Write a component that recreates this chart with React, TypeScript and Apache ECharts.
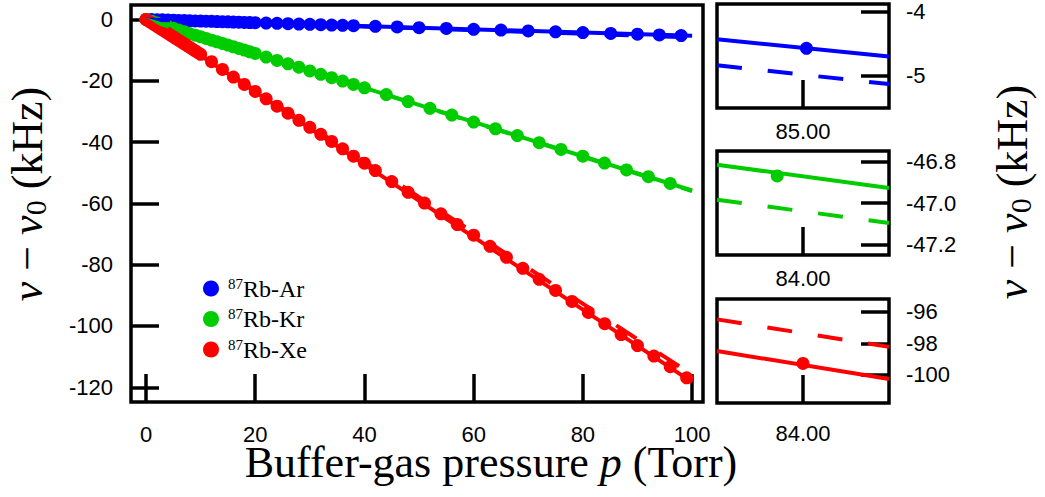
import React, { useEffect, useRef } from 'react';
import * as echarts from 'echarts';

// ---------- data ----------
const arP = [0, 1, 2, 3, 4, 5, 6, 7, 8, 9, 10, 11, 12, 13, 14, 15, 16, 17, 18, 19, 20,
  22, 24, 26, 28, 30, 32, 34, 36, 38, 42, 46, 50, 55, 60, 65, 70, 75, 80, 85.1, 90, 94, 98];
const arV = [0, -0.05, -0.1, -0.15, -0.2, -0.27, -0.32, -0.37, -0.43, -0.48, -0.54, -0.59, -0.64, -0.7, -0.75, -0.8, -0.86, -0.91, -0.97, -1.02, -1.07,
  -1.18, -1.29, -1.4, -1.5, -1.61, -1.72, -1.83, -1.93, -2.04, -2.26, -2.47, -2.69, -2.95, -3.22, -3.49, -3.76, -4.03, -4.3, -4.57, -4.83, -5.05, -5.26];

const krP = [0, 1, 2, 3, 4, 5, 6, 7, 8, 9, 10, 11, 12, 13, 14, 15, 16, 17, 18, 19, 20,
  22, 24, 26, 28, 30, 32, 34, 36, 38, 40, 44, 48, 52, 56, 60, 64, 68, 72, 76, 80, 83.97, 88, 92, 96];
const krV = [0, -0.6, -1.2, -1.78, -2.35, -2.92, -3.48, -4.04, -4.6, -5.14, -5.68, -6.22, -6.76, -7.3, -7.84, -8.38, -8.92, -9.46, -10.0, -10.55, -11.1,
  -12.3, -13.4, -14.5, -15.6, -16.8, -17.9, -19.0, -20.1, -21.2, -22.3, -24.5, -26.8, -29.0, -31.2, -33.5, -35.7, -37.9, -40.2, -42.4, -44.6, -46.87, -49.1, -51.3, -53.5];

const xeP = [0, 0.5, 1, 1.5, 2, 2.5, 3, 3.5, 4, 4.5, 5, 5.5, 6, 6.5, 7, 7.5, 8, 8.5, 9, 9.5, 10,
  12, 14, 16, 18, 20, 22, 24, 26, 28, 30, 32, 34, 36, 38, 40, 42,
  45, 48, 51, 54, 57, 60, 63, 66, 69, 72, 75, 78, 81, 84, 87, 90, 93, 96, 99];
const xeV = [0, -0.57, -1.14, -1.71, -2.28, -2.85, -3.42, -3.99, -4.56, -5.13, -5.7, -6.27, -6.84, -7.41, -7.98, -8.55, -9.12, -9.69, -10.26, -10.83, -11.4,
  -13.8, -16.3, -18.8, -21.2, -23.5, -25.9, -28.3, -30.6, -32.9, -35.2, -37.5, -39.8, -42.2, -44.6, -46.9, -49.3,
  -52.9, -56.4, -59.9, -63.4, -66.9, -70.4, -74.0, -77.6, -81.2, -84.8, -88.4, -92.0, -95.6, -99.27, -102.8, -106.4, -109.8, -113.3, -116.9];

// fit curves (endpoints): solid and dashed
const fitP = [0, 100];
const arFitSolid = [0, -5.37];
const arFitDashed = [0, -5.86];
const krFitSolid = [0, -55.8];
const krFitDashed = [0, -56.0];
const xeFitSolid = [0, -118.3];
const xeFitDashed = [0, -115.9];

const seriesNames = ['87Rb-Ar', '87Rb-Kr', '87Rb-Xe'];
const colors = ['#0000ff', '#00cc00', '#ff0000'];

// main axes ticks
const mainXTicks = [0, 20, 40, 60, 80, 100];
const mainYTicks = [0, -20, -40, -60, -80, -100, -120];
const mainXRange = [-2.75, 102];
const mainYRange = [-124.8, 4.7];

// insets (Ar, Kr, Xe)
const insetXRanges = [[82.5, 87.5], [83.9, 84.1], [83.25, 84.75]];
const insetXTicks = [[85], [84], [84]];
const insetYRanges = [[-5.5, -3.88], [-47.25, -46.75], [-101.77, -95.2]];
const insetYTicks = [[-4, -5], [-46.8, -47.0, -47.2], [-96, -98, -100]];
const insetYDecimals = [0, 1, 0];

const zip = (a: number[], b: number[]) => a.map((v, i) => [v, b[i]]);

// piece of a straight fit line (given by its two end values) over an x range
const fitPiece = (ys: number[], r: number[]) => {
  const at = (x: number) => ys[0] + ((ys[1] - ys[0]) * (x - fitP[0])) / (fitP[1] - fitP[0]);
  return [[r[0], at(r[0])], [r[1], at(r[1])]];
};

const SANS = 'Liberation Sans, Arial, sans-serif';
const SERIF = 'Liberation Serif, Times New Roman, serif';

function buildOption() {
  const gridBoxes = [
    { left: 131, top: 5, width: 572, height: 397 },
    { left: 717, top: 4, width: 172, height: 104 },
    { left: 717, top: 151, width: 172, height: 104 },
    { left: 717, top: 299, width: 172, height: 104 },
  ];
  const grid = gridBoxes.map((g) => ({
    ...g,
    show: true,
    borderColor: '#000',
    borderWidth: 3.5,
    backgroundColor: 'transparent',
    containLabel: false,
    outerBoundsMode: 'none',
  }));

  const tickStyle = { color: '#000', width: 3.5 };
  const labelBase = { fontFamily: SANS, fontSize: 22, lineHeight: 20, color: '#000' };
  const noLine = { show: false, onZero: false };

  const xAxis: any[] = [
    {
      gridIndex: 0, type: 'value', position: 'bottom', min: mainXRange[0], max: mainXRange[1],
      axisLine: noLine, splitLine: { show: false },
      axisTick: { inside: true, length: 28, lineStyle: tickStyle, customValues: mainXTicks },
      axisLabel: { ...labelBase, margin: 22, customValues: mainXTicks },
    },
  ];
  const yAxis: any[] = [
    {
      gridIndex: 0, type: 'value', position: 'left', min: mainYRange[0], max: mainYRange[1],
      axisLine: noLine, splitLine: { show: false },
      axisTick: { inside: true, length: 28, lineStyle: tickStyle, customValues: mainYTicks },
      axisLabel: { ...labelBase, margin: 18, customValues: mainYTicks },
    },
  ];
  for (let i = 0; i < 3; i++) {
    xAxis.push({
      gridIndex: i + 1, type: 'value', position: 'bottom', min: insetXRanges[i][0], max: insetXRanges[i][1],
      axisLine: noLine, splitLine: { show: false },
      axisTick: { inside: true, length: 28, lineStyle: tickStyle, customValues: insetXTicks[i] },
      axisLabel: { ...labelBase, margin: i === 2 ? 20 : 13, customValues: insetXTicks[i], formatter: (v: number) => v.toFixed(2) },
    });
    const d = insetYDecimals[i];
    yAxis.push({
      gridIndex: i + 1, type: 'value', position: 'right', min: insetYRanges[i][0], max: insetYRanges[i][1],
      axisLine: noLine, splitLine: { show: false },
      axisTick: { inside: true, length: 28, lineStyle: tickStyle, customValues: insetYTicks[i] },
      axisLabel: { ...labelBase, margin: 17, customValues: insetYTicks[i], formatter: (v: number) => v.toFixed(d) },
    });
  }

  const scatterData = [zip(arP, arV), zip(krP, krV), zip(xeP, xeV)];
  const solidVals = [arFitSolid, krFitSolid, xeFitSolid];
  const dashedVals = [arFitDashed, krFitDashed, xeFitDashed];
  const solidFits = solidVals.map((v) => zip(fitP, v));
  const dashedFits = dashedVals.map((v) => zip(fitP, v));

  const series: any[] = [];
  // main chart
  for (let k = 0; k < 3; k++) {
    series.push({
      type: 'line', name: 'solid' + k, xAxisIndex: 0, yAxisIndex: 0, data: solidFits[k],
      showSymbol: false, symbol: 'none', clip: true, z: 2,
      lineStyle: { color: colors[k], width: 4 }, itemStyle: { color: colors[k] },
    });
  }
  for (let k = 0; k < 3; k++) {
    series.push({
      type: 'scatter', name: seriesNames[k], xAxisIndex: 0, yAxisIndex: 0, data: scatterData[k],
      symbol: 'circle', symbolSize: 13, clip: true, z: 3,
      itemStyle: { color: colors[k], opacity: 1 },
    });
  }
  for (let k = 0; k < 3; k++) {
    series.push({
      type: 'line', name: 'dashed' + k, xAxisIndex: 0, yAxisIndex: 0, data: dashedFits[k],
      showSymbol: false, symbol: 'none', clip: true, z: 4,
      lineStyle: { color: colors[k], width: 4, type: [24, 27] }, itemStyle: { color: colors[k] },
    });
  }
  // insets
  for (let k = 0; k < 3; k++) {
    const ax = k + 1;
    series.push({
      type: 'line', name: 'isolid' + k, xAxisIndex: ax, yAxisIndex: ax, data: fitPiece(solidVals[k], insetXRanges[k]),
      showSymbol: false, symbol: 'none', clip: true, z: 2,
      lineStyle: { color: colors[k], width: 4 }, itemStyle: { color: colors[k] },
    });
    series.push({
      type: 'line', name: 'idashed' + k, xAxisIndex: ax, yAxisIndex: ax, data: fitPiece(dashedVals[k], insetXRanges[k]),
      showSymbol: false, symbol: 'none', clip: true, z: 2,
      lineStyle: { color: colors[k], width: 4, type: [25, 26] }, itemStyle: { color: colors[k] },
    });
    series.push({
      type: 'scatter', name: seriesNames[k], xAxisIndex: ax, yAxisIndex: ax, data: scatterData[k],
      symbol: 'circle', symbolSize: 13, clip: true, z: 3,
      itemStyle: { color: colors[k], opacity: 1 },
    });
  }

  const titleRich = {
    i: { fontFamily: SERIF, fontSize: 44, lineHeight: 28, fontStyle: 'italic', fill: '#000', color: '#000' },
    r: { fontFamily: SERIF, fontSize: 44, lineHeight: 28, fill: '#000', color: '#000' },
    s: { fontFamily: SERIF, fontSize: 30, lineHeight: 20, fill: '#000', color: '#000', padding: [16, 0, 0, 0] },
  };
  const yTitle = '{i|ν}{r| − }{i|ν}{s|0}{r| (kHz)}';

  const graphic = [
    {
      type: 'text', x: 491, y: 462, z: 10,
      style: {
        text: '{r|Buffer-gas pressure }{i|p}{r| (Torr)}', rich: titleRich,
        align: 'center', verticalAlign: 'middle', textAlign: 'center', textVerticalAlign: 'middle',
      },
    },
    {
      type: 'text', x: 27, y: 194, rotation: Math.PI / 2, z: 10,
      style: {
        text: yTitle, rich: titleRich,
        align: 'center', verticalAlign: 'middle', textAlign: 'center', textVerticalAlign: 'middle',
      },
    },
    {
      type: 'text', x: 1012, y: 192, rotation: Math.PI / 2, z: 10,
      style: {
        text: yTitle, rich: titleRich,
        align: 'center', verticalAlign: 'middle', textAlign: 'center', textVerticalAlign: 'middle',
      },
    },
  ];

  return {
    animation: false,
    backgroundColor: '#fff',
    grid,
    xAxis,
    yAxis,
    series,
    graphic,
    legend: {
      data: seriesNames,
      orient: 'vertical',
      left: 203,
      top: 276,
      padding: 0,
      itemGap: 5.5,
      itemWidth: 16,
      itemHeight: 16,
      icon: 'circle',
      selectedMode: false,
      formatter: (n: string) => `{s|87}{t|${n.slice(2)}}`,
      textStyle: {
        rich: {
          s: { fontFamily: SERIF, fontSize: 15, lineHeight: 14, color: '#000', padding: [0, 0, 10, 4] },
          t: { fontFamily: SERIF, fontSize: 24, lineHeight: 24, color: '#000' },
        },
      },
    },
  };
}

export default function App() {
  const ref = useRef<HTMLDivElement>(null);
  useEffect(() => {
    if (!ref.current) return;
    const chart = echarts.init(ref.current, null, { renderer: 'svg' });
    chart.setOption(buildOption() as any);
    return () => chart.dispose();
  }, []);
  return (
    <div
      ref={ref}
      style={{ position: 'absolute', left: 0, top: 0, width: 1045, height: 497, background: '#fff' }}
    />
  );
}
